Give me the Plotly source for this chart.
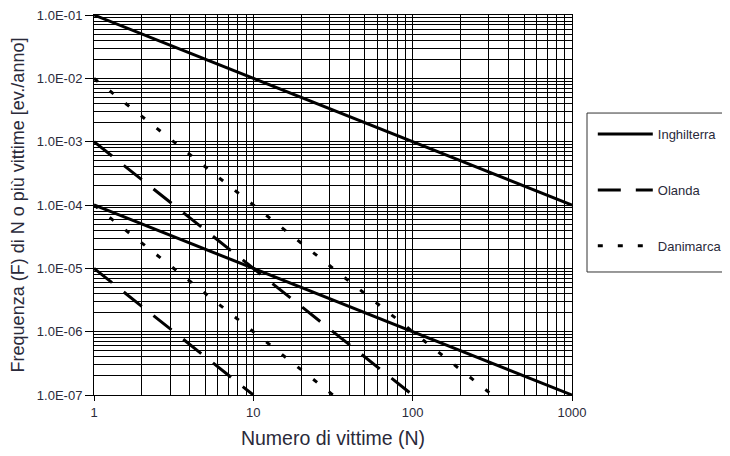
import plotly.graph_objects as go

# Data (F-N criterion lines)
ingh_x_hi = [1, 1000]
ingh_y_hi = [1e-1, 1e-4]
ingh_x_lo = [1, 1000]
ingh_y_lo = [1e-4, 1e-7]

olanda_x_hi = [1, 100]
olanda_y_hi = [1e-3, 1e-7]
olanda_x_lo = [1, 10]
olanda_y_lo = [1e-5, 1e-7]

dan_x_hi = [1, 316.2]
dan_y_hi = [1e-2, 1e-7]
dan_x_lo = [1, 31.62]
dan_y_lo = [1e-4, 1e-7]

x_ticks = [1, 10, 100, 1000]
x_labels = ["1", "10", "100", "1000"]
y_ticks = [1e-7, 1e-6, 1e-5, 1e-4, 1e-3, 1e-2, 1e-1]
y_labels = ["1.0E-07", "1.0E-06", "1.0E-05", "1.0E-04", "1.0E-03", "1.0E-02", "1.0E-01"]

x_minor = [m * 10 ** d for d in range(0, 3) for m in range(2, 10)]
y_minor = [m * 10.0 ** d for d in range(-7, -1) for m in range(2, 10)]

FONT = "Arial, Liberation Sans, sans-serif"
TXT = "#2a2a3a"

fig = go.Figure()
styles = [
    ("Inghilterra", ingh_x_hi, ingh_y_hi, ingh_x_lo, ingh_y_lo, "solid"),
    ("Olanda", olanda_x_hi, olanda_y_hi, olanda_x_lo, olanda_y_lo, "23px,15px"),
    ("Danimarca", dan_x_hi, dan_y_hi, dan_x_lo, dan_y_lo, "5px,15px"),
]
for name, xh, yh, xl, yl, dash in styles:
    fig.add_trace(go.Scatter(x=xh, y=yh, mode="lines", name=name, legendgroup=name,
                             line=dict(color="black", width=3, dash=dash)))
    fig.add_trace(go.Scatter(x=xl, y=yl, mode="lines", name=name, legendgroup=name,
                             showlegend=False,
                             line=dict(color="black", width=3, dash=dash)))

# legend frame
fig.add_shape(type="rect", xref="paper", yref="paper",
              x0=1.0314, x1=1.45, y0=0.3237, y1=0.742,
              line=dict(color="#333333", width=1), fillcolor="rgba(0,0,0,0)")

fig.update_layout(
    width=722, height=448,
    margin=dict(l=86, r=158, t=7, b=61, autoexpand=False),
    paper_bgcolor="white", plot_bgcolor="white",
    font=dict(family=FONT, size=13, color=TXT),
    showlegend=True,
    legend=dict(x=1.0435, y=0.726, xanchor="left", yanchor="top",
                borderwidth=0, bgcolor="rgba(0,0,0,0)", itemwidth=55,
                tracegroupgap=36, traceorder="grouped",
                font=dict(family=FONT, size=13, color=TXT)),
    xaxis=dict(type="log", range=[0, 3], tickmode="array", tickvals=x_ticks, ticktext=x_labels,
               automargin=False, ticklabeloverflow="allow",
               showgrid=True, gridcolor="black", gridwidth=1,
               showline=True, linecolor="black", linewidth=1, mirror=True,
               ticks="outside", ticklen=5, tickcolor="black",
               tickfont=dict(size=13, color=TXT),
               minor=dict(tickmode="array", tickvals=x_minor, showgrid=True,
                          gridcolor="black", gridwidth=1, ticks=""),
               title=dict(text="Numero di vittime (N)", font=dict(size=19.5, color=TXT), standoff=12),
               zeroline=False),
    yaxis=dict(type="log", range=[-7, -0.9999], tickmode="array", tickvals=y_ticks, ticktext=y_labels,
               automargin=False, ticklabeloverflow="allow",
               showgrid=True, gridcolor="black", gridwidth=1,
               showline=True, linecolor="black", linewidth=1, mirror=True,
               ticks="outside", ticklen=8, tickcolor="black",
               tickfont=dict(size=13, color=TXT),
               minor=dict(tickmode="array", tickvals=y_minor, showgrid=True,
                          gridcolor="black", gridwidth=1, ticks=""),
               title=dict(text="Frequenza (F) di N o più vittime [ev./anno]",
                          font=dict(size=18, color=TXT), standoff=8),
               zeroline=False),
)

fig.write_html("out.html")
